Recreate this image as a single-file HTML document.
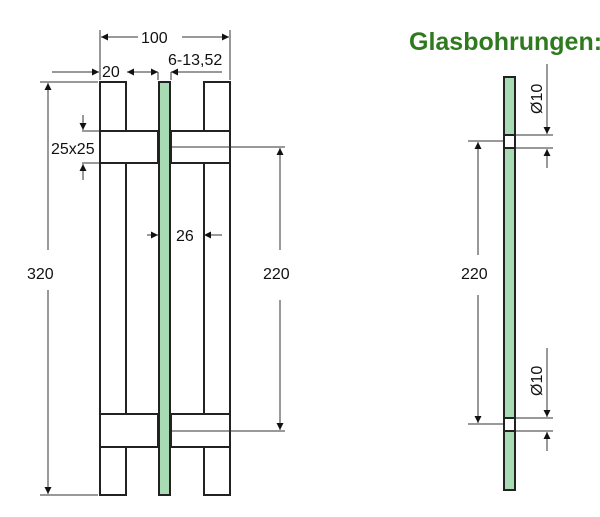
<!DOCTYPE html>
<html><head><style>
body{margin:0;background:#fff;}
svg text{font-family:"Liberation Sans",sans-serif;}
</style></head><body>
<svg width="600" height="512" viewBox="0 0 600 512" xmlns="http://www.w3.org/2000/svg">
<defs>
<marker id="a" viewBox="0 0 10 10" refX="10" refY="5" markerWidth="13" markerHeight="7" orient="auto-start-reverse" markerUnits="userSpaceOnUse"><path d="M0,0L10,5L0,10z" fill="#111"/></marker>
</defs>
<text x="409" y="50" font-size="25" font-weight="bold" fill="#2f7a1f">Glasbohrungen:</text>
<g stroke="#222" stroke-width="2" fill="#fff">
<rect x="100" y="82" width="26" height="413"/>
<rect x="204" y="82" width="26" height="413"/>
<rect x="100" y="131" width="58" height="32"/>
<rect x="171" y="131" width="59" height="32"/>
<rect x="100" y="414" width="58" height="33"/>
<rect x="171" y="414" width="59" height="33"/>
<rect x="159" y="82" width="11" height="413" fill="#a8dbb4"/>
<rect x="504" y="77" width="11" height="413" fill="#a8dbb4"/>
<rect x="504" y="135" width="11" height="13"/>
<rect x="504" y="418" width="11" height="13"/>
</g>
<g stroke="#333" stroke-width="1" fill="none">
<line x1="100" y1="30" x2="100" y2="80"/><line x1="230" y1="30" x2="230" y2="80"/>
<line x1="101" y1="37" x2="138" y2="37" marker-start="url(#a)"/><line x1="182" y1="37" x2="229" y2="37" marker-end="url(#a)"/>
<line x1="52" y1="72" x2="99" y2="72" marker-end="url(#a)"/>
<line x1="127" y1="72" x2="158" y2="72" marker-start="url(#a)" marker-end="url(#a)"/>
<line x1="171" y1="72" x2="222" y2="72" marker-start="url(#a)"/>
<line x1="158" y1="72" x2="158" y2="80"/><line x1="171" y1="72" x2="171" y2="80"/>
<line x1="40" y1="82" x2="98" y2="82"/><line x1="40" y1="495" x2="98" y2="495"/>
<line x1="48" y1="83" x2="48" y2="250" marker-start="url(#a)"/><line x1="48" y1="290" x2="48" y2="494" marker-end="url(#a)"/>
<line x1="82" y1="131" x2="99" y2="131"/><line x1="82" y1="163" x2="99" y2="163"/>
<line x1="83" y1="115" x2="83" y2="130" marker-end="url(#a)"/><line x1="83" y1="164" x2="83" y2="180" marker-start="url(#a)"/>
<line x1="172" y1="147" x2="285" y2="147"/><line x1="172" y1="431" x2="285" y2="431"/>
<line x1="280" y1="148" x2="280" y2="250" marker-start="url(#a)"/><line x1="280" y1="300" x2="280" y2="430" marker-end="url(#a)"/>
<line x1="147" y1="235" x2="158" y2="235" marker-end="url(#a)"/>
<line x1="204" y1="235" x2="222" y2="235" marker-start="url(#a)"/>
<line x1="516" y1="135" x2="553" y2="135"/><line x1="516" y1="148" x2="553" y2="148"/>
<line x1="547" y1="64" x2="547" y2="134" marker-end="url(#a)"/><line x1="547" y1="149" x2="547" y2="168" marker-start="url(#a)"/>
<line x1="516" y1="418" x2="553" y2="418"/><line x1="516" y1="431" x2="553" y2="431"/>
<line x1="547" y1="348" x2="547" y2="417" marker-end="url(#a)"/><line x1="547" y1="432" x2="547" y2="451" marker-start="url(#a)"/>
<line x1="468" y1="141" x2="503" y2="141"/><line x1="468" y1="424" x2="503" y2="424"/>
<line x1="478" y1="142" x2="478" y2="255" marker-start="url(#a)"/><line x1="478" y1="295" x2="478" y2="423" marker-end="url(#a)"/>
</g>
<g font-size="16" fill="#111">
<text x="141" y="43">100</text>
<text x="102" y="77">20</text>
<text x="168" y="65">6-13,52</text>
<text x="51" y="154">25x25</text>
<text x="27" y="279">320</text>
<text x="263" y="279">220</text>
<text x="176" y="241">26</text>
<text x="461" y="279">220</text>
<text transform="translate(542,114) rotate(-90)">Ø10</text>
<text transform="translate(542,396) rotate(-90)">Ø10</text>
</g>
</svg>
</body></html>
